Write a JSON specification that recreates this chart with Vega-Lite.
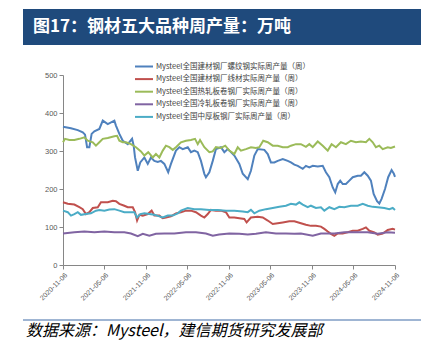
{
"$schema":"https://vega.github.io/schema/vega-lite/v6.json",
"padding":{"left":22,"top":9,"right":2,"bottom":0},
"background":"white",
"config":{"view":{"stroke":null},"font":"Noto Sans CJK SC"},
"columns":1,
"bounds":"full",
"spacing":16,
"resolve":{"legend":{"color":"independent"},"scale":{"color":"independent"}},
"concat":[
{"width":358,"height":36,"data":{"values":[{"a":0,"b":1,"t":"图17：钢材五大品种周产量：万吨"}]},
"layer":[
{"mark":{"type":"rect","fill":"#1f4a7c"},"encoding":{"x":{"field":"a","type":"quantitative","scale":{"domain":[0,1],"range":[-40,358]},"axis":null},"x2":{"field":"b"}}},
{"mark":{"type":"text","align":"left","baseline":"middle","dx":10,"color":"white","fontSize":17,"fontWeight":"bold","font":"Noto Sans CJK SC"},"encoding":{"x":{"field":"a","type":"quantitative","axis":null},"text":{"field":"t"}}}
]},
{"width":332,"height":190,
"data":{"values":[
{"d":"2020-11-06","s":"A","v":364},{"d":"2020-12-11","s":"A","v":360},{"d":"2021-01-10","s":"A","v":355},{"d":"2021-02-01","s":"A","v":349},{"d":"2021-02-11","s":"A","v":343},{"d":"2021-02-20","s":"A","v":310},{"d":"2021-03-02","s":"A","v":310},{"d":"2021-03-12","s":"A","v":345},{"d":"2021-03-24","s":"A","v":352},{"d":"2021-04-15","s":"A","v":358},{"d":"2021-04-30","s":"A","v":380},{"d":"2021-05-22","s":"A","v":371},{"d":"2021-06-20","s":"A","v":380},{"d":"2021-06-27","s":"A","v":367},{"d":"2021-07-12","s":"A","v":345},{"d":"2021-07-27","s":"A","v":327},{"d":"2021-08-18","s":"A","v":318},{"d":"2021-09-06","s":"A","v":332},{"d":"2021-09-13","s":"A","v":314},{"d":"2021-09-19","s":"A","v":283},{"d":"2021-10-01","s":"A","v":248},{"d":"2021-10-12","s":"A","v":270},{"d":"2021-10-30","s":"A","v":283},{"d":"2021-11-14","s":"A","v":266},{"d":"2021-11-28","s":"A","v":283},{"d":"2021-12-13","s":"A","v":274},{"d":"2021-12-28","s":"A","v":271},{"d":"2022-01-11","s":"A","v":274},{"d":"2022-01-26","s":"A","v":266},{"d":"2022-02-12","s":"A","v":244},{"d":"2022-02-24","s":"A","v":266},{"d":"2022-03-18","s":"A","v":301},{"d":"2022-04-02","s":"A","v":310},{"d":"2022-04-17","s":"A","v":305},{"d":"2022-05-09","s":"A","v":310},{"d":"2022-05-23","s":"A","v":297},{"d":"2022-06-07","s":"A","v":301},{"d":"2022-06-22","s":"A","v":297},{"d":"2022-07-06","s":"A","v":274},{"d":"2022-07-21","s":"A","v":240},{"d":"2022-07-28","s":"A","v":231},{"d":"2022-08-12","s":"A","v":244},{"d":"2022-08-27","s":"A","v":274},{"d":"2022-09-10","s":"A","v":305},{"d":"2022-10-02","s":"A","v":310},{"d":"2022-10-17","s":"A","v":297},{"d":"2022-11-01","s":"A","v":305},{"d":"2022-11-15","s":"A","v":297},{"d":"2022-11-30","s":"A","v":288},{"d":"2022-12-22","s":"A","v":266},{"d":"2023-01-06","s":"A","v":240},{"d":"2023-01-28","s":"A","v":226},{"d":"2023-02-11","s":"A","v":248},{"d":"2023-02-26","s":"A","v":288},{"d":"2023-03-13","s":"A","v":305},{"d":"2023-04-11","s":"A","v":303},{"d":"2023-04-26","s":"A","v":292},{"d":"2023-05-10","s":"A","v":270},{"d":"2023-05-25","s":"A","v":270},{"d":"2023-06-09","s":"A","v":274},{"d":"2023-07-01","s":"A","v":279},{"d":"2023-07-23","s":"A","v":274},{"d":"2023-08-06","s":"A","v":270},{"d":"2023-08-21","s":"A","v":264},{"d":"2023-09-05","s":"A","v":261},{"d":"2023-09-27","s":"A","v":253},{"d":"2023-10-11","s":"A","v":261},{"d":"2023-10-26","s":"A","v":257},{"d":"2023-11-10","s":"A","v":261},{"d":"2023-12-02","s":"A","v":259},{"d":"2023-12-24","s":"A","v":261},{"d":"2024-01-07","s":"A","v":244},{"d":"2024-01-22","s":"A","v":231},{"d":"2024-02-06","s":"A","v":204},{"d":"2024-02-17","s":"A","v":191},{"d":"2024-02-28","s":"A","v":213},{"d":"2024-03-10","s":"A","v":222},{"d":"2024-03-21","s":"A","v":213},{"d":"2024-04-04","s":"A","v":213},{"d":"2024-04-19","s":"A","v":222},{"d":"2024-05-04","s":"A","v":231},{"d":"2024-05-26","s":"A","v":235},{"d":"2024-06-09","s":"A","v":235},{"d":"2024-06-24","s":"A","v":244},{"d":"2024-07-09","s":"A","v":235},{"d":"2024-07-23","s":"A","v":222},{"d":"2024-08-04","s":"A","v":187},{"d":"2024-08-19","s":"A","v":168},{"d":"2024-08-29","s":"A","v":162},{"d":"2024-09-08","s":"A","v":174},{"d":"2024-09-23","s":"A","v":200},{"d":"2024-10-07","s":"A","v":231},{"d":"2024-10-22","s":"A","v":250},{"d":"2024-11-01","s":"A","v":240},{"d":"2024-11-06","s":"A","v":232},
{"d":"2020-11-06","s":"B","v":165},{"d":"2020-11-27","s":"B","v":161},{"d":"2020-12-26","s":"B","v":159},{"d":"2021-01-17","s":"B","v":152},{"d":"2021-02-01","s":"B","v":147},{"d":"2021-02-15","s":"B","v":134},{"d":"2021-03-02","s":"B","v":139},{"d":"2021-03-17","s":"B","v":150},{"d":"2021-04-08","s":"B","v":152},{"d":"2021-04-22","s":"B","v":165},{"d":"2021-05-22","s":"B","v":165},{"d":"2021-06-13","s":"B","v":169},{"d":"2021-06-27","s":"B","v":168},{"d":"2021-07-12","s":"B","v":161},{"d":"2021-08-03","s":"B","v":156},{"d":"2021-08-18","s":"B","v":152},{"d":"2021-09-09","s":"B","v":152},{"d":"2021-09-19","s":"B","v":139},{"d":"2021-09-28","s":"B","v":117},{"d":"2021-10-08","s":"B","v":132},{"d":"2021-10-23","s":"B","v":130},{"d":"2021-11-14","s":"B","v":134},{"d":"2021-12-01","s":"B","v":143},{"d":"2021-12-13","s":"B","v":130},{"d":"2022-01-04","s":"B","v":130},{"d":"2022-01-19","s":"B","v":123},{"d":"2022-02-02","s":"B","v":125},{"d":"2022-02-24","s":"B","v":128},{"d":"2022-03-18","s":"B","v":136},{"d":"2022-04-09","s":"B","v":139},{"d":"2022-05-01","s":"B","v":143},{"d":"2022-05-23","s":"B","v":143},{"d":"2022-06-14","s":"B","v":139},{"d":"2022-07-06","s":"B","v":130},{"d":"2022-07-21","s":"B","v":125},{"d":"2022-08-05","s":"B","v":134},{"d":"2022-08-19","s":"B","v":145},{"d":"2022-09-10","s":"B","v":143},{"d":"2022-10-02","s":"B","v":143},{"d":"2022-10-24","s":"B","v":139},{"d":"2022-11-08","s":"B","v":125},{"d":"2022-11-30","s":"B","v":125},{"d":"2022-12-22","s":"B","v":123},{"d":"2023-01-13","s":"B","v":121},{"d":"2023-01-23","s":"B","v":112},{"d":"2023-02-11","s":"B","v":125},{"d":"2023-03-13","s":"B","v":127},{"d":"2023-04-04","s":"B","v":125},{"d":"2023-04-26","s":"B","v":117},{"d":"2023-05-18","s":"B","v":108},{"d":"2023-06-09","s":"B","v":110},{"d":"2023-07-01","s":"B","v":112},{"d":"2023-07-30","s":"B","v":115},{"d":"2023-08-21","s":"B","v":115},{"d":"2023-09-19","s":"B","v":110},{"d":"2023-10-11","s":"B","v":106},{"d":"2023-11-02","s":"B","v":103},{"d":"2023-11-24","s":"B","v":103},{"d":"2023-12-16","s":"B","v":101},{"d":"2023-12-31","s":"B","v":95},{"d":"2024-01-15","s":"B","v":88},{"d":"2024-01-29","s":"B","v":82},{"d":"2024-02-13","s":"B","v":77},{"d":"2024-02-28","s":"B","v":83},{"d":"2024-03-21","s":"B","v":83},{"d":"2024-04-12","s":"B","v":86},{"d":"2024-05-04","s":"B","v":90},{"d":"2024-05-26","s":"B","v":90},{"d":"2024-06-17","s":"B","v":95},{"d":"2024-07-01","s":"B","v":99},{"d":"2024-07-16","s":"B","v":90},{"d":"2024-08-07","s":"B","v":86},{"d":"2024-08-22","s":"B","v":80},{"d":"2024-09-13","s":"B","v":83},{"d":"2024-10-05","s":"B","v":92},{"d":"2024-10-27","s":"B","v":95},{"d":"2024-11-06","s":"B","v":93},
{"d":"2020-11-06","s":"C","v":323},{"d":"2020-11-15","s":"C","v":332},{"d":"2020-12-04","s":"C","v":329},{"d":"2020-12-26","s":"C","v":329},{"d":"2021-01-17","s":"C","v":332},{"d":"2021-02-08","s":"C","v":336},{"d":"2021-02-23","s":"C","v":327},{"d":"2021-03-17","s":"C","v":323},{"d":"2021-03-31","s":"C","v":314},{"d":"2021-04-15","s":"C","v":323},{"d":"2021-04-30","s":"C","v":332},{"d":"2021-05-22","s":"C","v":334},{"d":"2021-06-20","s":"C","v":339},{"d":"2021-07-02","s":"C","v":340},{"d":"2021-07-12","s":"C","v":327},{"d":"2021-07-27","s":"C","v":323},{"d":"2021-08-10","s":"C","v":323},{"d":"2021-09-01","s":"C","v":318},{"d":"2021-09-23","s":"C","v":310},{"d":"2021-10-15","s":"C","v":299},{"d":"2021-10-30","s":"C","v":288},{"d":"2021-11-16","s":"C","v":297},{"d":"2021-12-06","s":"C","v":283},{"d":"2021-12-20","s":"C","v":292},{"d":"2022-01-04","s":"C","v":283},{"d":"2022-01-19","s":"C","v":301},{"d":"2022-02-02","s":"C","v":314},{"d":"2022-02-17","s":"C","v":310},{"d":"2022-03-04","s":"C","v":303},{"d":"2022-03-18","s":"C","v":310},{"d":"2022-04-09","s":"C","v":323},{"d":"2022-05-01","s":"C","v":327},{"d":"2022-05-23","s":"C","v":329},{"d":"2022-06-10","s":"C","v":332},{"d":"2022-06-22","s":"C","v":318},{"d":"2022-07-02","s":"C","v":329},{"d":"2022-07-21","s":"C","v":310},{"d":"2022-08-12","s":"C","v":297},{"d":"2022-08-27","s":"C","v":299},{"d":"2022-09-10","s":"C","v":310},{"d":"2022-10-02","s":"C","v":308},{"d":"2022-10-21","s":"C","v":314},{"d":"2022-11-08","s":"C","v":301},{"d":"2022-11-30","s":"C","v":292},{"d":"2022-12-15","s":"C","v":310},{"d":"2022-12-29","s":"C","v":301},{"d":"2023-01-20","s":"C","v":305},{"d":"2023-02-11","s":"C","v":310},{"d":"2023-03-05","s":"C","v":308},{"d":"2023-03-20","s":"C","v":310},{"d":"2023-04-06","s":"C","v":327},{"d":"2023-04-26","s":"C","v":323},{"d":"2023-05-18","s":"C","v":314},{"d":"2023-06-09","s":"C","v":314},{"d":"2023-07-01","s":"C","v":310},{"d":"2023-07-23","s":"C","v":310},{"d":"2023-08-06","s":"C","v":314},{"d":"2023-08-28","s":"C","v":318},{"d":"2023-09-19","s":"C","v":318},{"d":"2023-10-11","s":"C","v":311},{"d":"2023-10-26","s":"C","v":318},{"d":"2023-11-10","s":"C","v":310},{"d":"2023-12-02","s":"C","v":325},{"d":"2023-12-24","s":"C","v":314},{"d":"2024-01-15","s":"C","v":301},{"d":"2024-02-01","s":"C","v":318},{"d":"2024-02-20","s":"C","v":310},{"d":"2024-03-13","s":"C","v":323},{"d":"2024-04-04","s":"C","v":318},{"d":"2024-04-26","s":"C","v":327},{"d":"2024-05-18","s":"C","v":323},{"d":"2024-06-09","s":"C","v":325},{"d":"2024-07-01","s":"C","v":323},{"d":"2024-07-16","s":"C","v":332},{"d":"2024-07-31","s":"C","v":323},{"d":"2024-08-14","s":"C","v":310},{"d":"2024-08-29","s":"C","v":314},{"d":"2024-09-13","s":"C","v":305},{"d":"2024-10-05","s":"C","v":310},{"d":"2024-10-19","s":"C","v":308},{"d":"2024-11-06","s":"C","v":312},
{"d":"2020-11-06","s":"D","v":83},{"d":"2020-12-26","s":"D","v":86},{"d":"2021-02-08","s":"D","v":88},{"d":"2021-03-24","s":"D","v":86},{"d":"2021-05-07","s":"D","v":88},{"d":"2021-06-20","s":"D","v":86},{"d":"2021-08-03","s":"D","v":86},{"d":"2021-09-01","s":"D","v":83},{"d":"2021-10-01","s":"D","v":76},{"d":"2021-10-23","s":"D","v":82},{"d":"2021-11-21","s":"D","v":77},{"d":"2021-12-20","s":"D","v":82},{"d":"2022-01-26","s":"D","v":83},{"d":"2022-03-11","s":"D","v":83},{"d":"2022-05-01","s":"D","v":86},{"d":"2022-06-14","s":"D","v":86},{"d":"2022-07-28","s":"D","v":83},{"d":"2022-08-27","s":"D","v":77},{"d":"2022-09-24","s":"D","v":80},{"d":"2022-11-08","s":"D","v":83},{"d":"2022-12-22","s":"D","v":82},{"d":"2023-01-28","s":"D","v":80},{"d":"2023-03-05","s":"D","v":82},{"d":"2023-04-18","s":"D","v":86},{"d":"2023-06-01","s":"D","v":83},{"d":"2023-07-15","s":"D","v":83},{"d":"2023-08-21","s":"D","v":82},{"d":"2023-09-19","s":"D","v":83},{"d":"2023-11-10","s":"D","v":77},{"d":"2023-12-16","s":"D","v":83},{"d":"2024-02-13","s":"D","v":83},{"d":"2024-03-28","s":"D","v":86},{"d":"2024-05-26","s":"D","v":86},{"d":"2024-07-09","s":"D","v":86},{"d":"2024-08-22","s":"D","v":82},{"d":"2024-10-05","s":"D","v":86},{"d":"2024-11-06","s":"D","v":85},
{"d":"2020-11-06","s":"E","v":143},{"d":"2020-11-27","s":"E","v":139},{"d":"2020-12-11","s":"E","v":130},{"d":"2020-12-26","s":"E","v":134},{"d":"2021-01-10","s":"E","v":139},{"d":"2021-01-24","s":"E","v":132},{"d":"2021-02-15","s":"E","v":134},{"d":"2021-03-09","s":"E","v":136},{"d":"2021-03-31","s":"E","v":143},{"d":"2021-04-15","s":"E","v":145},{"d":"2021-05-07","s":"E","v":143},{"d":"2021-05-29","s":"E","v":146},{"d":"2021-06-20","s":"E","v":147},{"d":"2021-07-12","s":"E","v":143},{"d":"2021-08-03","s":"E","v":139},{"d":"2021-08-25","s":"E","v":139},{"d":"2021-09-16","s":"E","v":139},{"d":"2021-09-28","s":"E","v":125},{"d":"2021-10-12","s":"E","v":134},{"d":"2021-10-30","s":"E","v":136},{"d":"2021-11-21","s":"E","v":134},{"d":"2021-12-13","s":"E","v":132},{"d":"2022-01-04","s":"E","v":128},{"d":"2022-01-19","s":"E","v":125},{"d":"2022-02-10","s":"E","v":130},{"d":"2022-03-04","s":"E","v":130},{"d":"2022-03-26","s":"E","v":136},{"d":"2022-04-09","s":"E","v":143},{"d":"2022-04-17","s":"E","v":145},{"d":"2022-05-09","s":"E","v":150},{"d":"2022-06-07","s":"E","v":147},{"d":"2022-07-06","s":"E","v":147},{"d":"2022-08-12","s":"E","v":145},{"d":"2022-09-18","s":"E","v":145},{"d":"2022-10-24","s":"E","v":143},{"d":"2022-11-30","s":"E","v":143},{"d":"2023-01-06","s":"E","v":141},{"d":"2023-01-28","s":"E","v":139},{"d":"2023-02-11","s":"E","v":145},{"d":"2023-02-26","s":"E","v":136},{"d":"2023-03-20","s":"E","v":143},{"d":"2023-04-18","s":"E","v":147},{"d":"2023-05-18","s":"E","v":150},{"d":"2023-06-16","s":"E","v":153},{"d":"2023-07-15","s":"E","v":156},{"d":"2023-08-06","s":"E","v":161},{"d":"2023-08-28","s":"E","v":159},{"d":"2023-09-12","s":"E","v":165},{"d":"2023-09-27","s":"E","v":159},{"d":"2023-10-19","s":"E","v":152},{"d":"2023-11-02","s":"E","v":156},{"d":"2023-11-24","s":"E","v":150},{"d":"2023-12-16","s":"E","v":152},{"d":"2023-12-31","s":"E","v":143},{"d":"2024-01-22","s":"E","v":152},{"d":"2024-02-13","s":"E","v":147},{"d":"2024-03-06","s":"E","v":153},{"d":"2024-03-28","s":"E","v":152},{"d":"2024-04-26","s":"E","v":156},{"d":"2024-05-26","s":"E","v":156},{"d":"2024-06-17","s":"E","v":161},{"d":"2024-07-09","s":"E","v":156},{"d":"2024-07-31","s":"E","v":153},{"d":"2024-08-22","s":"E","v":152},{"d":"2024-09-20","s":"E","v":150},{"d":"2024-10-12","s":"E","v":147},{"d":"2024-10-27","s":"E","v":150},{"d":"2024-11-06","s":"E","v":145}
]},
"mark":{"type":"line","strokeWidth":2},
"encoding":{
"x":{"field":"d","type":"temporal","scale":{"type":"utc","domain":[{"year":2020,"month":11,"date":6,"utc":true},{"year":2024,"month":11,"date":6,"utc":true}]},
"axis":{"values":[{"year":2020,"month":11,"date":6,"utc":true},{"year":2021,"month":5,"date":6,"utc":true},{"year":2021,"month":11,"date":6,"utc":true},{"year":2022,"month":5,"date":6,"utc":true},{"year":2022,"month":11,"date":6,"utc":true},{"year":2023,"month":5,"date":6,"utc":true},{"year":2023,"month":11,"date":6,"utc":true},{"year":2024,"month":5,"date":6,"utc":true},{"year":2024,"month":11,"date":6,"utc":true}],
"format":"%Y-%m-%d","labelAngle":-45,"labelFontSize":7,"labelFont":"Liberation Sans","labelColor":"#595959","domainColor":"#868686","tickColor":"#868686","tickSize":4,"labelPadding":2,"title":null,"grid":false,"labelFlush":false,"labelOverlap":false,"minExtent":38}},
"y":{"field":"v","type":"quantitative","scale":{"domain":[0,500]},
"axis":{"values":[0,100,200,300,400,500],"labelFontSize":7.5,"labelFont":"Liberation Sans","labelColor":"#595959","domainColor":"#868686","tickColor":"#868686","tickSize":4,"labelPadding":2,"grid":false,"title":null}},
"color":{"field":"s","type":"nominal","scale":{"domain":["A","B","C","D","E"],"range":["#4F81BD","#C0504D","#9BBB59","#8064A2","#4BACC6"]},
"legend":{"orient":"none","legendX":75.5,"legendY":-14,"title":null,"symbolType":"M-2,0H2","symbolSize":81,"symbolStrokeWidth":2,"labelFontSize":7.5,"labelColor":"#404040","labelFont":"Noto Sans CJK SC","labelOffset":6.5,"rowPadding":2.6,"padding":0,"labelLimit":300,
"labelExpr":"datum.label=='A'?'Mysteel全国建材钢厂螺纹钢实际周产量（周）':datum.label=='B'?'Mysteel全国建材钢厂线材实际周产量（周）':datum.label=='C'?'Mysteel全国热轧板卷钢厂实际周产量（周）':datum.label=='D'?'Mysteel全国冷轧板卷钢厂实际周产量（周）':'Mysteel全国中厚板钢厂实际周产量（周）'"}}
}},
{"width":358,"height":22,"data":{"values":[{"a":0,"b":1,"y":0,"t":"数据来源：Mysteel，建信期货研究发展部"}]},
"layer":[
{"mark":{"type":"rule","color":"#7f9cc4","strokeWidth":1.5},"encoding":{"x":{"field":"a","type":"quantitative","scale":{"domain":[0,1],"range":[-40,358]},"axis":null},"x2":{"field":"b"},"y":{"field":"y","type":"quantitative","scale":{"domain":[0,1],"range":[0,22]},"axis":null}}},
{"mark":{"type":"text","align":"left","baseline":"middle","dx":3,"fontSize":16,"fontStyle":"italic","color":"#000000","font":"Noto Sans CJK SC"},"encoding":{"x":{"field":"a","type":"quantitative","axis":null},"text":{"field":"t"}}}
]}
]
}
